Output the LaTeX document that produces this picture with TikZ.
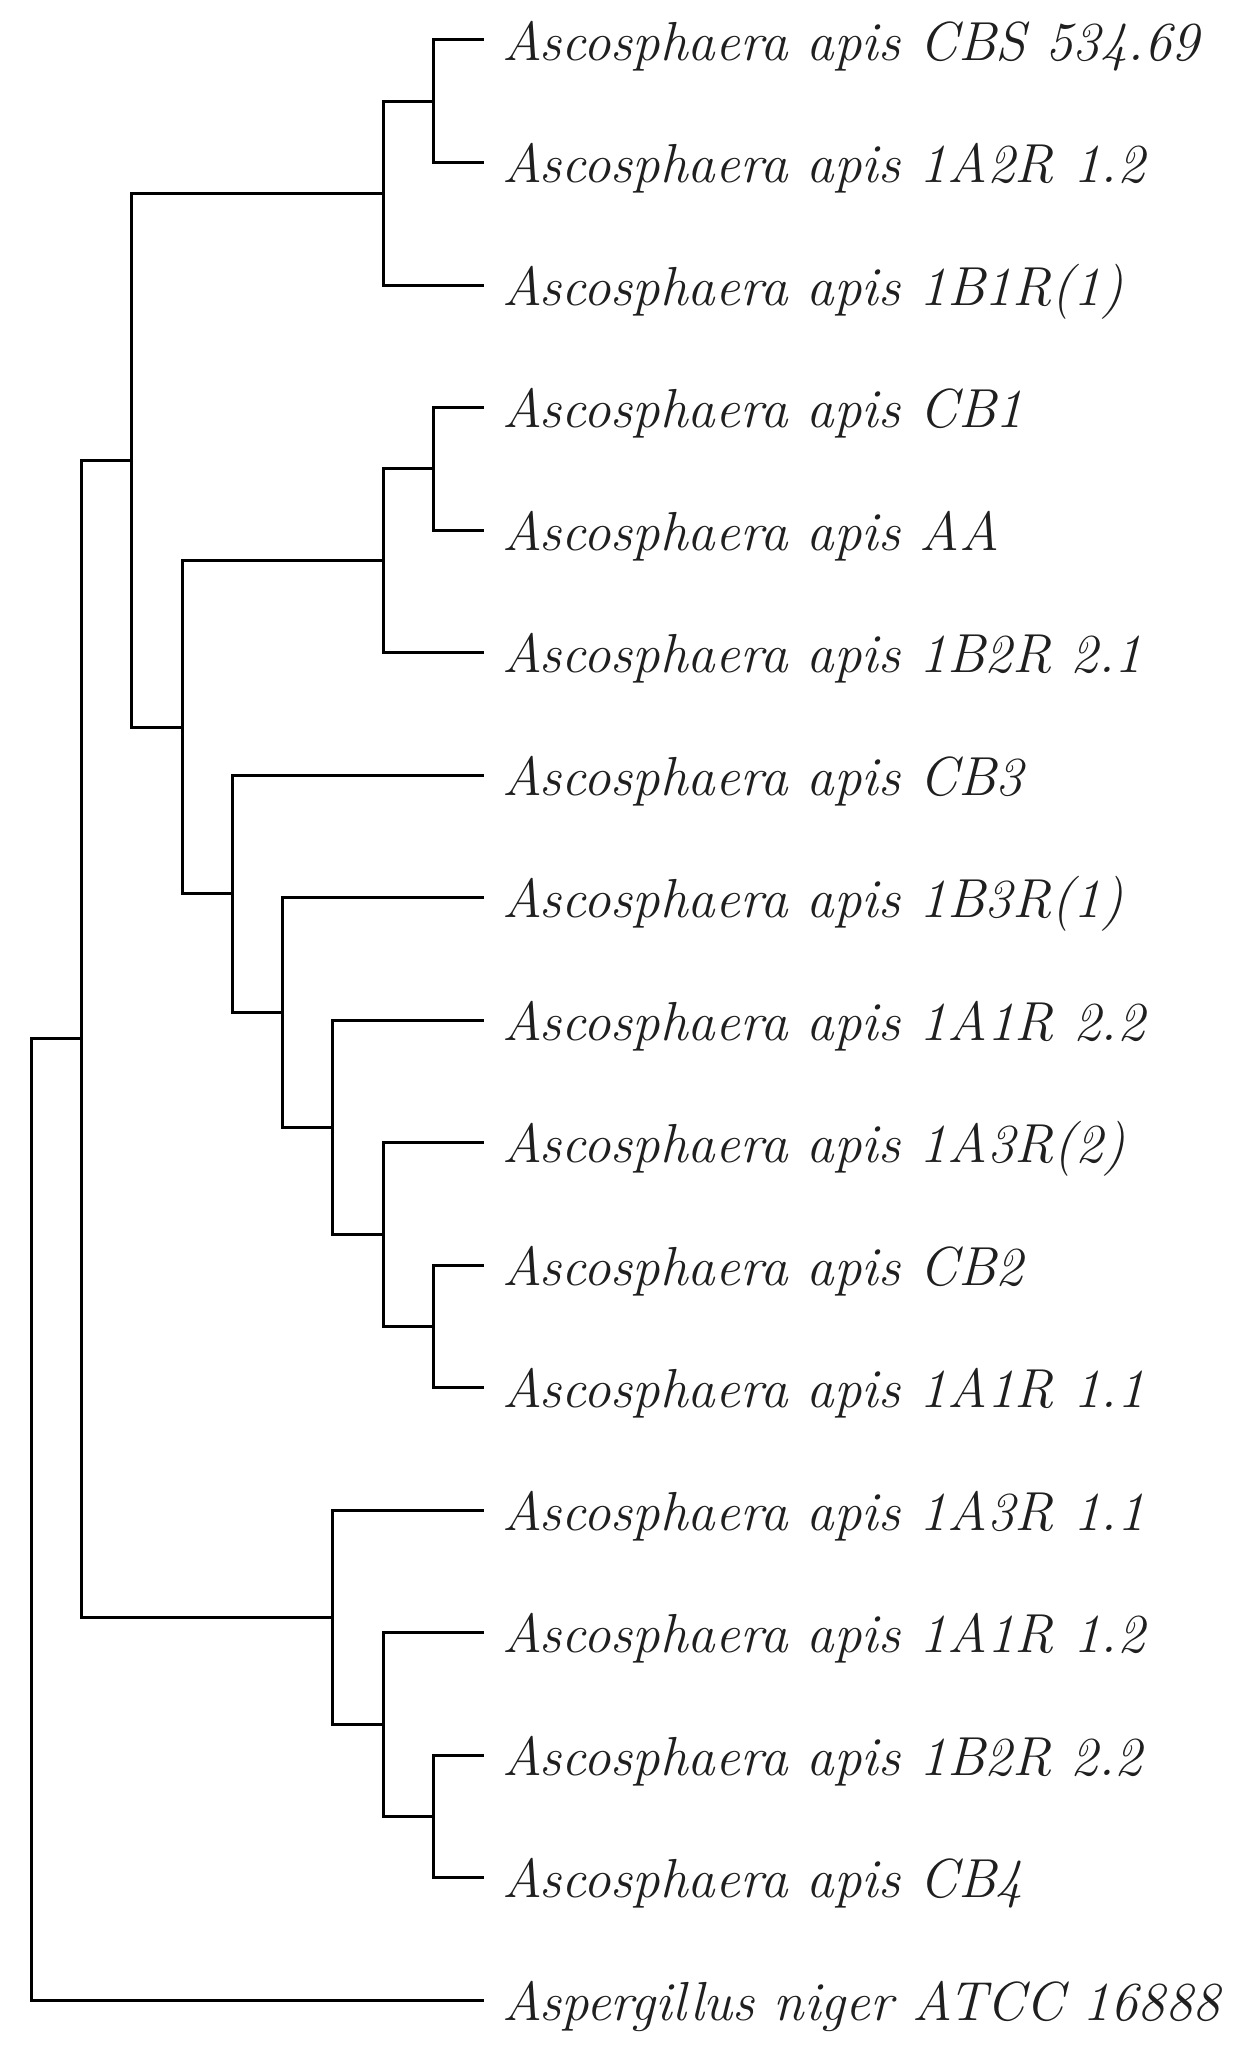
\documentclass[tikz,border=0pt]{standalone}
\usepackage{fontspec}
\begin{document}
\begin{tikzpicture}[x=1pt,y=-1pt,
  branch/.style={line width=3pt,black,line cap=rect},
  taxon/.style={anchor=base west,inner sep=0pt,font=\fontsize{55}{62}\selectfont\itshape,text=black!88}]
\useasboundingbox (0,0) rectangle (1259,2066);
% leaf tips
\coordinate (l1) at (482,40);
\coordinate (l2) at (482,162.5);
\coordinate (l3) at (482,285);
\coordinate (l4) at (482,407.5);
\coordinate (l5) at (482,530);
\coordinate (l6) at (482,652.5);
\coordinate (l7) at (482,775);
\coordinate (l8) at (482,897.5);
\coordinate (l9) at (482,1020);
\coordinate (l10) at (482,1142.5);
\coordinate (l11) at (482,1265);
\coordinate (l12) at (482,1387.5);
\coordinate (l13) at (482,1510);
\coordinate (l14) at (482,1632.5);
\coordinate (l15) at (482,1755);
\coordinate (l16) at (482,1877.5);
\coordinate (l17) at (482,2000);
% internal nodes
\coordinate (H) at (433,101.25);
\coordinate (F) at (383,193.1);
\coordinate (K) at (433,468.75);
\coordinate (I) at (383,560.6);
\coordinate (O) at (433,1326.25);
\coordinate (N) at (383,1234.4);
\coordinate (M) at (332.7,1127.2);
\coordinate (L) at (282.4,1012.3);
\coordinate (J) at (232,893.7);
\coordinate (G) at (182,727.2);
\coordinate (B) at (131.8,460.2);
\coordinate (E) at (433,1816.25);
\coordinate (D) at (383,1724.4);
\coordinate (C) at (332.7,1617.2);
\coordinate (A) at (81.6,1038.7);
\coordinate (R) at (31.5,1519.3);
% labels
\node[taxon] (n1) at (502,60) {Ascosphaera apis CBS 534.69};
\node[taxon] (n2) at (502,182.5) {Ascosphaera apis 1A2R 1.2};
\node[taxon] (n3) at (502,305) {Ascosphaera apis 1B1R(1)};
\node[taxon] (n4) at (502,427.5) {Ascosphaera apis CB1};
\node[taxon] (n5) at (502,550) {Ascosphaera apis AA};
\node[taxon] (n6) at (502,672.5) {Ascosphaera apis 1B2R 2.1};
\node[taxon] (n7) at (502,795) {Ascosphaera apis CB3};
\node[taxon] (n8) at (502,917.5) {Ascosphaera apis 1B3R(1)};
\node[taxon] (n9) at (502,1040) {Ascosphaera apis 1A1R 2.2};
\node[taxon] (n10) at (502,1162.5) {Ascosphaera apis 1A3R(2)};
\node[taxon] (n11) at (502,1285) {Ascosphaera apis CB2};
\node[taxon] (n12) at (502,1407.5) {Ascosphaera apis 1A1R 1.1};
\node[taxon] (n13) at (502,1530) {Ascosphaera apis 1A3R 1.1};
\node[taxon] (n14) at (502,1652.5) {Ascosphaera apis 1A1R 1.2};
\node[taxon] (n15) at (502,1775) {Ascosphaera apis 1B2R 2.2};
\node[taxon] (n16) at (502,1897.5) {Ascosphaera apis CB4};
\node[taxon] (n17) at (502,2020) {Aspergillus niger ATCC 16888};
% branches
\draw[branch] (H) |- (l1); \draw[branch] (H) |- (l2);
\draw[branch] (F) |- (H); \draw[branch] (F) |- (l3);
\draw[branch] (K) |- (l4); \draw[branch] (K) |- (l5);
\draw[branch] (I) |- (K); \draw[branch] (I) |- (l6);
\draw[branch] (O) |- (l11); \draw[branch] (O) |- (l12);
\draw[branch] (N) |- (l10); \draw[branch] (N) |- (O);
\draw[branch] (M) |- (l9); \draw[branch] (M) |- (N);
\draw[branch] (L) |- (l8); \draw[branch] (L) |- (M);
\draw[branch] (J) |- (l7); \draw[branch] (J) |- (L);
\draw[branch] (G) |- (I); \draw[branch] (G) |- (J);
\draw[branch] (B) |- (F); \draw[branch] (B) |- (G);
\draw[branch] (E) |- (l15); \draw[branch] (E) |- (l16);
\draw[branch] (D) |- (l14); \draw[branch] (D) |- (E);
\draw[branch] (C) |- (l13); \draw[branch] (C) |- (D);
\draw[branch] (A) |- (B); \draw[branch] (A) |- (C);
\draw[branch] (R) |- (A); \draw[branch] (R) |- (l17);
\end{tikzpicture}
\end{document}
